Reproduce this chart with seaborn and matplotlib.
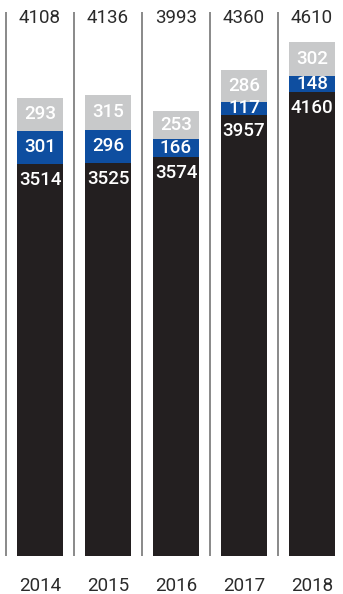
import matplotlib
matplotlib.use("Agg")
import matplotlib.pyplot as plt
import matplotlib.transforms as mtransforms
import seaborn as sns
import pandas as pd

years = ["2014", "2015", "2016", "2017", "2018"]
base = [3514, 3525, 3574, 3957, 4160]      # black segment
middle = [301, 296, 166, 117, 148]         # blue segment
top = [293, 315, 253, 286, 302]            # grey segment
totals = [4108, 4136, 3993, 4360, 4610]

BLACK = "#231f20"
BLUE = "#0e4ea0"
GREY = "#c8c9ca"
TEXT = "#2b2b2b"
RULE = "#6a6a6a"

sns.set_style("white")
plt.rcParams["font.family"] = ["Roboto", "DejaVu Sans"]

df = pd.DataFrame({"year": years, "base": base, "middle": middle, "top": top})
df["base_mid"] = df["base"] + df["middle"]
df["stack"] = df["base_mid"] + df["top"]

W, H = 343, 594
fig = plt.figure(figsize=(W / 100, H / 100), dpi=100)
ax = fig.add_axes([0, 38 / H, 1, 556 / H])

bar_w = 46 / 68
common = dict(x="year", order=years, width=bar_w, saturation=1, linewidth=0, ax=ax)
sns.barplot(data=df, y="stack", color=GREY, **common)
sns.barplot(data=df, y="base_mid", color=BLUE, **common)
sns.barplot(data=df, y="base", color=BLACK, **common)

px_per_unit = 0.1115
ax.set_ylim(0, 556 / px_per_unit)
ax.set_xlim(-40 / 68, (W - 40) / 68)

# separating rules to the left of each column
xs = list(range(len(years)))
ax.vlines([x - 0.5 for x in xs], 0, (556 - 12) / px_per_unit, color=RULE, linewidth=1.1)

for s in ax.spines.values():
    s.set_visible(False)
ax.set_yticks([])
ax.set_xlabel("")
ax.set_ylabel("")
ax.set_xticks(xs)
ax.set_xticklabels(years, fontsize=13.5, color=TEXT)
ax.tick_params(axis="x", length=0, pad=15)

blend = mtransforms.blended_transform_factory(ax.transData, ax.transAxes)
lab = dict(ha="center", color="white", fontsize=13.5, fontweight="medium")
for i in xs:
    ax.text(i, 1 - 18 / 556, f"{totals[i]}", transform=blend, ha="center", va="center",
            fontsize=13.5, color=TEXT)
    ax.text(i, base[i] + middle[i] + top[i] / 2, f"{top[i]}", va="center", **lab)
    ax.text(i, base[i] + middle[i] / 2, f"{middle[i]}", va="center", **lab)
    ax.text(i, base[i] - 16 / px_per_unit, f"{base[i]}", va="center", **lab)

fig.savefig("out.png", dpi=100)
